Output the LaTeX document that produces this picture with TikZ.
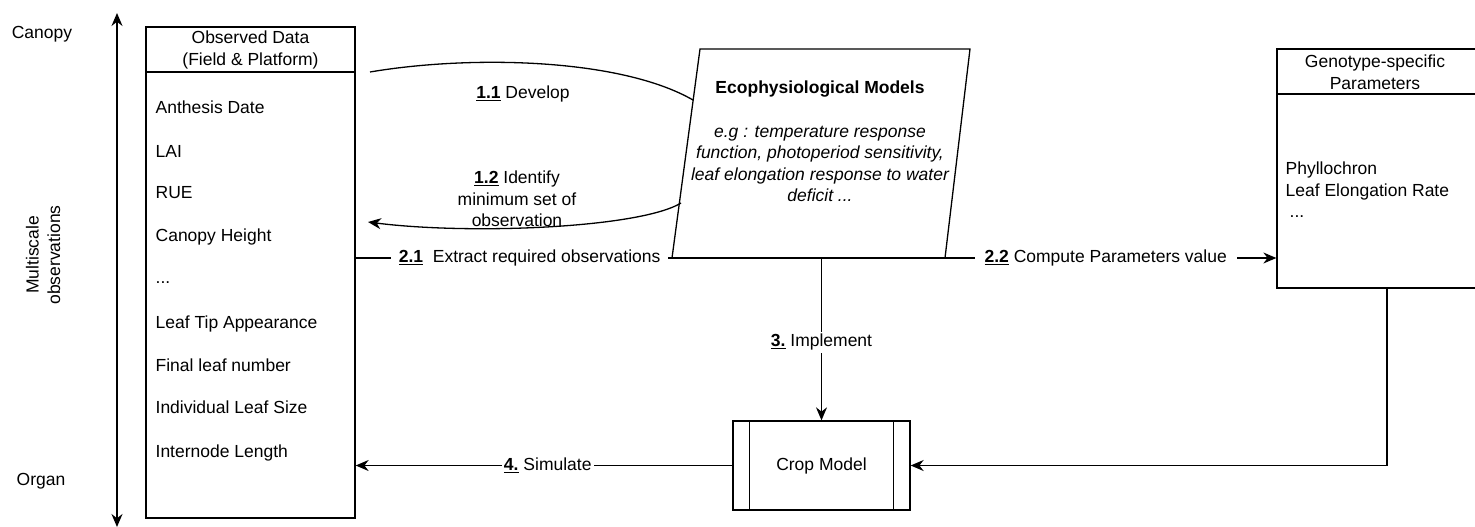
\documentclass[tikz,border=0pt]{standalone}
\usepackage{fontspec}
\setmainfont{Liberation Sans}
\usetikzlibrary{arrows.meta}

\begin{document}
\begin{tikzpicture}[x=1pt, y=-1pt, line width=1.3pt,
        every node/.style={font=\fontsize{17.5}{21.5}\selectfont, inner sep=2pt},
        databox/.style={draw, inner sep=0pt},
        steplabel/.style={fill=white, align=center},
        flow/.style={-{Stealth[length=13pt, width=11pt]}}]

    \useasboundingbox (0,0) rectangle (1475,527);

    \coordinate (Top) at (117,13);
    \coordinate (Bottom) at (117,527);
    \draw[{Stealth[length=13pt, width=11pt]}-{Stealth[length=13pt, width=11pt]}] (Top) -- (Bottom);
    \node (Canopy) at (42,34) {Canopy};
    \node (Organ) at (41,481) {Organ};
    \node[rotate=90, align=center] (Scale) at (43,255) {Multiscale\\observations};

    \node[databox, minimum width=209pt, minimum height=491pt] (Obs) at (250.5,272.5) {};
    \draw (146,72) -- (355,72);
    \node[align=center] (ObsHead) at (250.5,50) {Observed Data\\(Field \& Platform)};
    \foreach \y/\txt [count=\i] in {113/Anthesis Date, 157/LAI, 198/RUE, 241/Canopy Height, 283/{...},
                                    328/Leaf Tip Appearance, 371/Final leaf number, 413/Individual Leaf Size, 457/Internode Length} {
        \node[anchor=base west] (Obs\i) at (153,\y) {\txt};
    }

    \coordinate (EcoTL) at (700,49);
    \coordinate (EcoTR) at (970,49);
    \coordinate (EcoBR) at (945,258);
    \coordinate (EcoBL) at (672,258);
    \draw (EcoTL) -- (EcoTR) -- (EcoBR) -- (EcoBL) -- cycle;
    \node (Eco) at (820,89) {\textbf{Ecophysiological Models}};
    \node[align=center, font=\fontsize{17.5}{21.5}\selectfont\itshape] (EcoText) at (820,164)
        {e.g : temperature response\\function, photoperiod sensitivity,\\leaf elongation response to water\\deficit ...};

    \node[databox, minimum width=199pt, minimum height=239pt] (Geno) at (1376.5,168.5) {};
    \draw (1277,94) -- (1476,94);
    \node[align=center] (GenoHead) at (1375,72) {Genotype-specific\\Parameters};
    \node[anchor=west, align=left] (GenoItems) at (1283,190) {Phyllochron\\Leaf Elongation Rate\\\hspace{4pt}...};

    \node[databox, minimum width=177pt, minimum height=89pt] (Crop) at (821.5,465.5) {Crop Model};
    \draw ([xshift=17pt]Crop.north west) -- ([xshift=17pt]Crop.south west);
    \draw ([xshift=-17pt]Crop.north east) -- ([xshift=-17pt]Crop.south east);

    \coordinate (DevStart) at (370,72);
    \coordinate (DevEnd) at (693,100);
    \draw (DevStart) .. controls (470,55) and (620,58) .. (DevEnd);
    \node (Develop) at (523,94) {\underline{\textbf{1.1}} Develop};

    \coordinate (IdStart) at (681,203);
    \coordinate (IdEnd) at (368,222);
    \draw[flow] (IdStart) .. controls (640,228) and (470,235) .. (IdEnd);
    \node[align=center] (Identify) at (517,199) {\underline{\textbf{1.2}} Identify\\minimum set of\\observation};

    \draw[flow] (Obs.east |- EcoBL) -- node[steplabel, pos=0.55, inner xsep=8pt] (Extract) {\underline{\textbf{2.1}}\ \ Extract required observations} (EcoBL)
        -- (EcoBR) -- node[steplabel, pos=0.485, inner xsep=10pt] (Compute) {\underline{\textbf{2.2}} Compute Parameters value} (Geno.west |- EcoBR);
    \draw[flow] (Crop.north |- EcoBL) -- node[steplabel, pos=0.52] (Implement) {\underline{\textbf{3.}} Implement} (Crop.north);
    \draw[flow] (Crop.west) -- node[steplabel, pos=0.49] (Simulate) {\underline{\textbf{4.}} Simulate} (Obs.east |- Crop.west);
    \draw[flow] ([xshift=10.5pt]Geno.south) |- (Crop.east);
\end{tikzpicture}
\end{document}
